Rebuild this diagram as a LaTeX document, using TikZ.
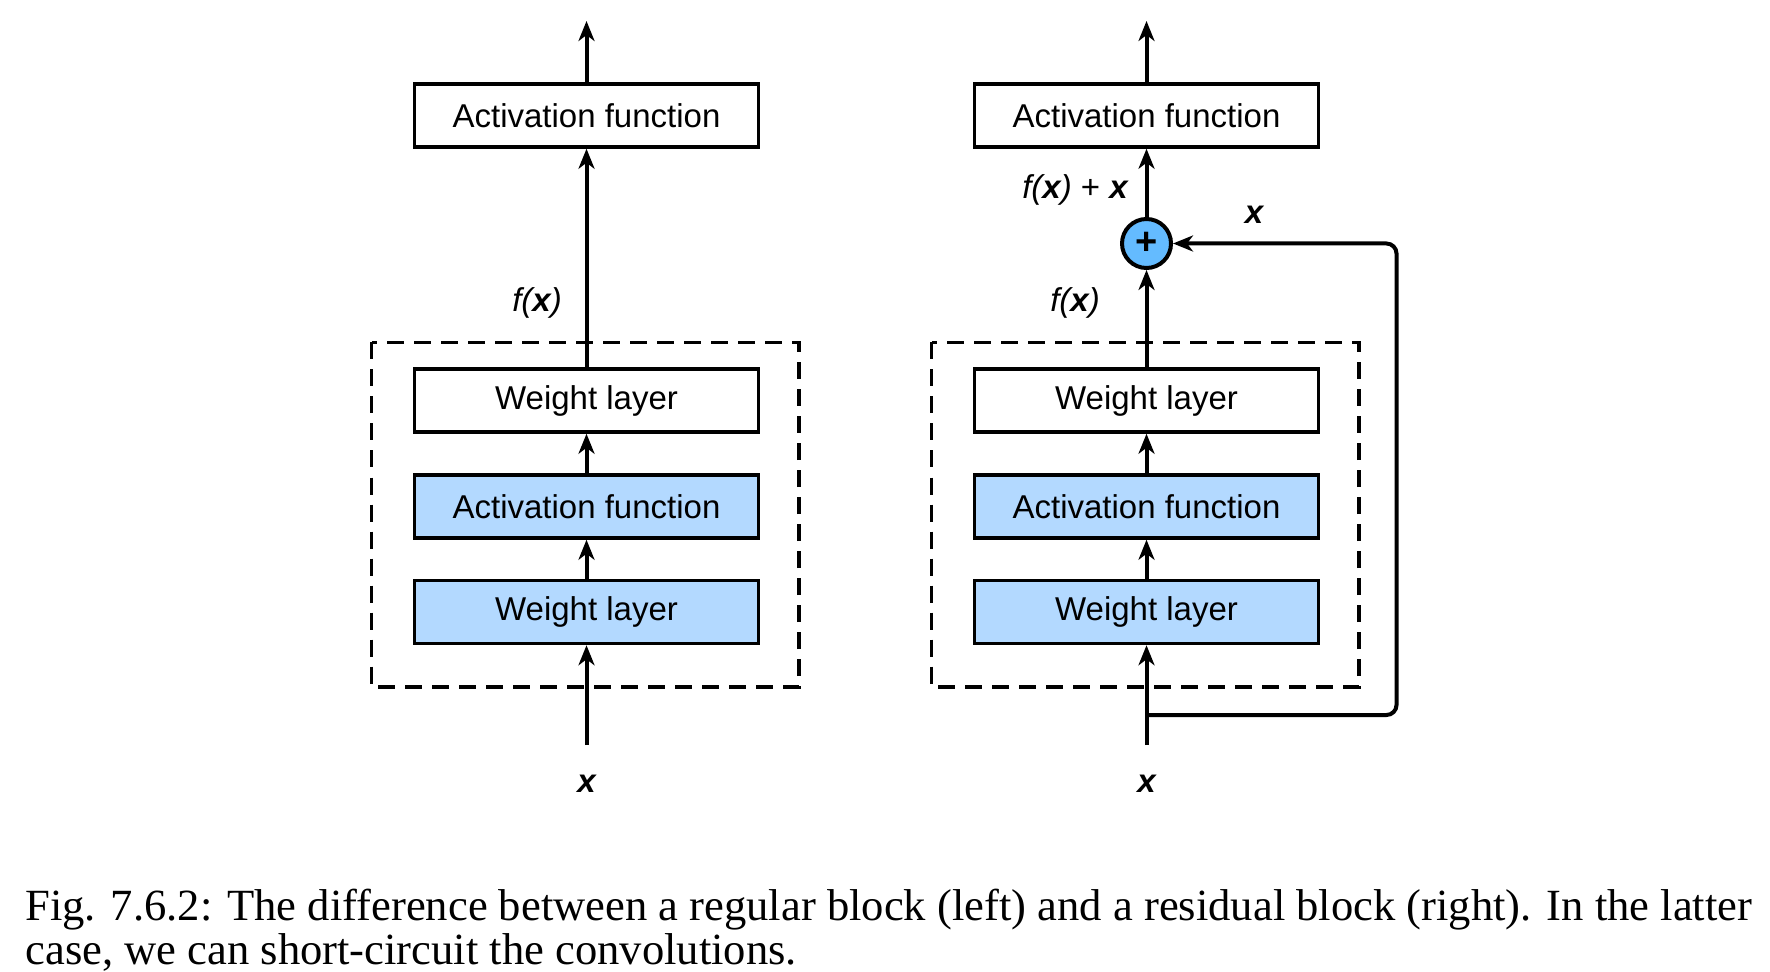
\documentclass[tikz,border=0pt]{standalone}
\usepackage{fontspec}
\setmainfont{Liberation Serif}
\newfontfamily\lblfont{Liberation Sans}
\usetikzlibrary{arrows.meta}
\definecolor{boxblue}{RGB}{179,217,255}
\definecolor{sumblue}{RGB}{100,187,255}
\begin{document}
\begin{tikzpicture}[x=0.5pt,y=-0.5pt,
  every node/.style={font=\lblfont\fontsize{16.5}{20}\selectfont},
  layerbox/.style={draw=black,line width=1.75pt,minimum width=172pt,minimum height=31.5pt,inner sep=0pt},
  bluebox/.style={layerbox,fill=boxblue},
  sumnode/.style={circle,draw=black,line width=2pt,fill=sumblue,minimum size=24.5pt,inner sep=0pt},
  flow/.style={line width=2pt,-{Stealth[length=10pt,width=8pt,inset=3pt]}},
  dashbox/.style={draw=black,line width=1.7pt,dash pattern=on 8.5pt off 5pt},
  lbl/.style={inner sep=0pt}
]
\useasboundingbox (0,0) rectangle (1770,972);
\fill[white] (0,0) rectangle (1770,972);

% ---------- left: regular block ----------
\draw[dashbox] (371.5,342.5) rectangle (799,687);
\node[layerbox] (Lact) at (586.5,115.5) {Activation function};
\node[layerbox] (Lw1) at (586.5,400.5) {Weight layer};
\node[bluebox] (Lact2) at (586.5,506.5) {Activation function};
\node[bluebox] (Lw2) at (586.5,612) {Weight layer};
\coordinate (Lin) at (586.5,745);
\coordinate (Lout) at (586.5,21);
\node[lbl] (Lx) at (586.5,784) {\bfseries\itshape x};
\node[lbl] (Lfx) at (537,303) {\itshape f(\textbf{x})};
\draw[flow] (Lin) -- (Lw2.south);
\draw[flow] (Lw2.north) -- (Lact2.south);
\draw[flow] (Lact2.north) -- (Lw1.south);
\draw[flow] (Lw1.north) -- (Lact.south);
\draw[flow] (Lact.north) -- (Lout);

% ---------- right: residual block ----------
\draw[dashbox] (931.5,342.5) rectangle (1359,687);
\node[layerbox] (Ract) at (1146.5,115.5) {Activation function};
\node[layerbox] (Rw1) at (1146.5,400.5) {Weight layer};
\node[bluebox] (Ract2) at (1146.5,506.5) {Activation function};
\node[bluebox] (Rw2) at (1146.5,612) {Weight layer};
\node[sumnode] (sum) at (1146.5,243.5) {\fontsize{19}{19}\selectfont\bfseries +};
\coordinate (Rin) at (1146.5,745);
\coordinate (Rout) at (1146.5,21);
\coordinate (Rsplit) at (1146.5,715);
\coordinate (Rc1) at (1396.5,715);
\coordinate (Rc2) at (1396.5,243.5);
\node[lbl] (Rx) at (1146.5,784) {\bfseries\itshape x};
\node[lbl] (Rfx) at (1075,303) {\itshape f(\textbf{x})};
\node[lbl] (Rfxx) at (1075,190) {\itshape f(\textbf{x})\upshape\ + \bfseries\itshape x};
\node[lbl] (Rsx) at (1254,215) {\bfseries\itshape x};
\draw[flow] (Rin) -- (Rw2.south);
\draw[flow] (Rw2.north) -- (Ract2.south);
\draw[flow] (Ract2.north) -- (Rw1.south);
\draw[flow] (Rw1.north) -- (sum.south);
\draw[flow] (sum.north) -- (Ract.south);
\draw[flow] (Ract.north) -- (Rout);
\draw[flow,rounded corners=5pt] (Rsplit) -- (Rc1) -- (Rc2) -- (sum.east);

% ---------- caption ----------
\node[anchor=base west,inner sep=0pt,font=\rmfamily\fontsize{22.3}{24}\selectfont] (cap1) at (25,920) {Fig. 7.6.2: The difference between a regular block (left) and a residual block (right). In the latter};
\node[anchor=base west,inner sep=0pt,font=\rmfamily\fontsize{22.3}{24}\selectfont] (cap2) at (25,964) {case, we can short-circuit the convolutions.};
\end{tikzpicture}
\end{document}
